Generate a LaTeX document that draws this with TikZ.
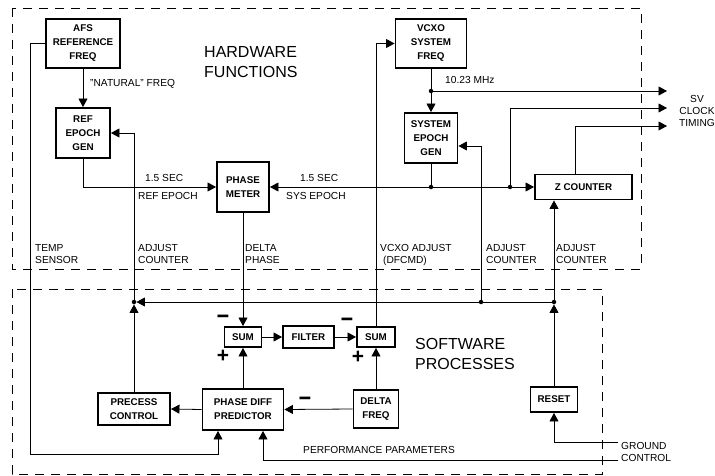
\documentclass[tikz,border=0pt]{standalone}
\usepackage{fontspec}
\setmainfont{Liberation Sans}
\usetikzlibrary{arrows.meta,calc}
\begin{document}
\begin{tikzpicture}[x=1pt,y=-1pt,
  blk/.style={draw,line width=1.9pt,align=center,inner sep=0pt,font=\bfseries\fontsize{9.8}{14}\selectfont},
  lbl/.style={align=left,inner sep=0pt,anchor=west,font=\fontsize{10.2}{12}\selectfont},
  big/.style={align=left,inner sep=0pt,anchor=west,font=\fontsize{16}{20}\selectfont},
  wire/.style={line width=0.8pt},
  arr/.style={wire,-{Triangle[length=8.5pt,width=9pt]}},
  bnd/.style={line width=0.8pt,dash pattern=on 9pt off 7pt},
  dot/.style={circle,fill,inner sep=0pt,minimum size=4.5pt},
  sgn/.style={inner sep=0pt,font=\bfseries\fontsize{12}{12}\selectfont},
  pls/.style={inner sep=0pt,font=\bfseries\fontsize{21}{21}\selectfont}
]
\useasboundingbox (0,0) rectangle (715,476);

% boundaries
\draw[bnd] (12,8) rectangle (641,269);
\draw[bnd] (12,289) rectangle (602,474);

% blocks
\node[blk,minimum width=74pt,minimum height=49pt] (afs) at (83,43.5) {AFS\\REFERENCE\\FREQ};
\node[blk,minimum width=54pt,minimum height=50pt] (ref) at (83,133) {REF\\EPOCH\\GEN};
\node[blk,minimum width=52pt,minimum height=50pt] (pm) at (243,187) {PHASE\\METER};
\node[blk,minimum width=71pt,minimum height=49pt] (vcxo) at (431,43.5) {VCXO\\SYSTEM\\FREQ};
\node[blk,minimum width=53pt,minimum height=50pt] (sys) at (431,138) {SYSTEM\\EPOCH\\GEN};
\node[blk,minimum width=97pt,minimum height=25pt] (zc) at (583.5,187) {Z COUNTER};
\node[blk,minimum width=37pt,minimum height=20pt] (sum1) at (243,337) {SUM};
\node[blk,minimum width=51pt,minimum height=22pt] (filt) at (308.5,337) {FILTER};
\node[blk,minimum width=38pt,minimum height=20pt] (sum2) at (376,337) {SUM};
\node[blk,minimum width=72pt,minimum height=32pt] (pc) at (134,409) {PRECESS\\CONTROL};
\node[blk,minimum width=81pt,minimum height=41pt] (pdp) at (243,409.5) {PHASE DIFF\\PREDICTOR};
\node[blk,minimum width=45pt,minimum height=38pt] (df) at (376,409) {DELTA\\FREQ};
\node[blk,minimum width=47pt,minimum height=25pt] (reset) at (554,399.5) {RESET};

% junctions and free ends
\node[dot] (j1) at (431,187) {};
\node[dot] (j2) at (510,187) {};
\node[dot] (j3) at (431,91) {};
\node[dot] (ja) at (134,302) {};
\node[dot] (jb) at (481,302) {};
\node[dot] (jc) at (554,302) {};
\coordinate (o1) at (667,91);
\coordinate (o2) at (667,108);
\coordinate (o3) at (667,126);
\coordinate (t1) at (30,454);
\coordinate (g1) at (618,442);
\coordinate (p1) at (618,460);

% hardware connectors
\draw[arr] (afs.south) -- (ref.north);
\draw[arr] (ref.south) |- (pm.west);
\draw[wire] (sys.south) -- (j1);
\draw[arr] (j1) -- (pm.east);
\draw[wire] (j1) -- (j2);
\draw[arr] (j2) -- (zc.west);
\draw[arr] (j2) |- (o2);
\draw[wire] (vcxo.south) -- (j3);
\draw[arr] (j3) -- (sys.north);
\draw[arr] (j3) -- (o1);
\draw[arr] ([xshift=-8.5pt]zc.north) |- (o3);
\draw[arr] (afs.west) -| (t1) -| ([xshift=-25pt]pdp.south);

% software connectors
\draw[arr] (pm.south) -- (sum1.north);
\draw[arr] (pdp.north) -- (sum1.south);
\draw[arr] (sum1.east) -- (filt.west);
\draw[arr] (filt.east) -- (sum2.west);
\draw[arr] (sum2.north) |- (vcxo.west);
\draw[arr] (df.north) -- (sum2.south);
\draw[arr] (df.west) -- (pdp.east);
\draw[arr] (pdp.west) -- (pc.east);
\draw[arr] (pc.north) -- (ja);
\draw[arr] (ja) |- (ref.east);
\draw[arr] (jc) -- (ja);
\draw[arr] (jb) |- ([yshift=-8pt]sys.east);
\draw[arr] (reset.north) -- (jc);
\draw[arr] (jc) -- (jc |- zc.south);
\draw[arr] (g1) -| (reset.south);
\draw[arr] (p1) -| ([xshift=20pt]pdp.south);

% labels
\node[big] (hw) at (204,62) {HARDWARE\\FUNCTIONS};
\node[big] (sw) at (415,354) {SOFTWARE\\PROCESSES};
\node[lbl] (nat) at (90,83.5) {"NATURAL" FREQ};
\node[lbl] (l15a) at (145,177.5) {1.5 SEC};
\node[lbl] (lref) at (138,196) {REF EPOCH};
\node[lbl] (l15b) at (300,177.5) {1.5 SEC};
\node[lbl] (lsys) at (286,196) {SYS EPOCH};
\node[lbl] (lmhz) at (445,80) {10.23 MHz};
\node[lbl,align=center,anchor=center] (sv) at (697,111) {SV\\CLOCK\\TIMING};
\node[lbl] (temp) at (35,254) {TEMP\\SENSOR};
\node[lbl] (adj1) at (138,254) {ADJUST\\COUNTER};
\node[lbl] (dph) at (245,254) {DELTA\\PHASE};
\node[lbl] (vadj) at (380,255) {VCXO ADJUST\\\hspace*{3pt}(DFCMD)};
\node[lbl] (adj2) at (486,254) {ADJUST\\COUNTER};
\node[lbl] (adj3) at (556,254) {ADJUST\\COUNTER};
\node[lbl] (perf) at (303,450) {PERFORMANCE PARAMETERS};
\node[lbl] (gc) at (621,452) {GROUND\\CONTROL};

% signs
\node[sgn] (m1) at (223,319) {\scalebox{0.9}[2.2]{—}};
\node[pls] (q1) at (223,356) {+};
\node[sgn] (m2) at (347,322) {\scalebox{0.9}[2.2]{—}};
\node[pls] (q2) at (358,357) {+};
\node[sgn] (m3) at (305,401) {\scalebox{0.9}[2.2]{—}};
\end{tikzpicture}
\end{document}
